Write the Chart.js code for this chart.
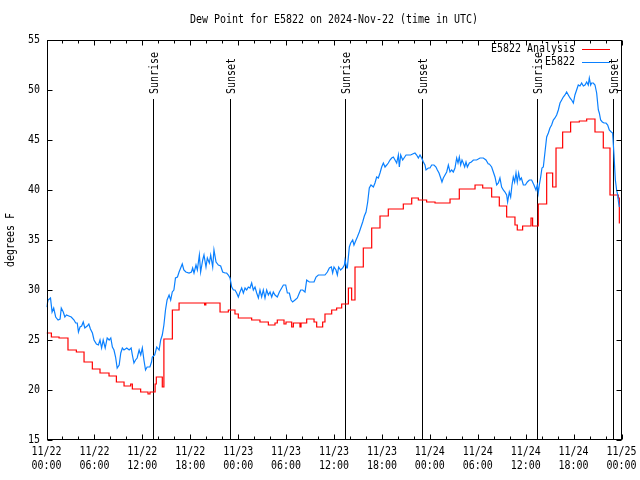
<!DOCTYPE html>
<html>
<head>
<meta charset="utf-8">
<script src="https://cdn.jsdelivr.net/npm/chart.js@4/dist/chart.umd.min.js"></script>
<style>
    html, body { margin: 0; background: #fff; }
</style>
</head>
<body>
<canvas id="dewChart" width="640" height="480"></canvas>
<script>
// dew point chart, hours since 2024-11-22 00:00 UTC on the x axis

const titleText = 'Dew Point for E5822 on 2024-Nov-22 (time in UTC)';
const yTitle = 'degrees F';
const tickDays = ['11/22', '11/22', '11/22', '11/22', '11/23', '11/23', '11/23', '11/23', '11/24', '11/24', '11/24', '11/24', '11/25'];
const tickTimes = ['00:00', '06:00', '12:00', '18:00', '00:00', '06:00', '12:00', '18:00', '00:00', '06:00', '12:00', '18:00', '00:00'];

const sunHours = [13.38, 22.98, 37.38, 47.06, 61.46, 70.97];
const sunLabels = ['Sunrise', 'Sunset', 'Sunrise', 'Sunset', 'Sunrise', 'Sunset'];

// E5822 Analysis (step line, value held until next hour)
const anaHours = [0, 0.61, 1.57, 2.69, 3.74, 4.7, 5.74, 6.7, 7.83, 8.75, 9.71, 10.54, 10.75, 11.79, 12.71, 12.96,
    13.6, 13.75, 14.5, 14.7, 15.76, 16.6, 19.8, 19.95, 21.73, 22.77, 23.6, 24.02, 25.69, 26.73, 27.78, 28.61, 28.9,
    29.74, 29.99, 30.7, 30.91, 31.74, 31.87, 32.58, 33.5, 33.83, 34.58, 34.87, 35.71, 36.33, 36.96, 37.8, 38.21,
    38.63, 39.67, 40.72, 41.76, 42.8, 44.68, 45.73, 46.56, 47.6, 48.65, 50.53, 51.69, 53.66, 54.62, 55.74, 56.7,
    57.62, 58.66, 58.95, 59.62, 60.67, 60.87, 61.58, 62.63, 63.38, 63.8, 64.63, 65.63, 66.72, 67.64, 68.68, 69.72,
    70.56, 71.6, 71.73, 71.8];
const anaDew = [25.7, 25.3, 25.2, 24.0, 23.8, 22.8, 22.1, 21.7, 21.4, 20.8, 20.4, 20.6, 20.1, 19.8, 19.6, 19.8,
    20.6, 21.3, 20.3, 25.1, 28.0, 28.7, 28.5, 28.7, 27.8, 28.0, 27.6, 27.2, 27.0, 26.8, 26.5, 26.7, 27.0,
    26.6, 26.8, 26.3, 26.7, 26.3, 26.7, 27.1, 26.8, 26.3, 26.8, 27.6, 28.0, 28.2, 28.6, 30.2, 29.0,
    32.3, 34.2, 36.2, 37.4, 38.1, 38.6, 39.2, 39.0, 38.8, 38.7, 39.1, 40.1, 40.5, 40.2, 39.3, 38.4,
    37.3, 36.5, 36.0, 36.4, 37.2, 36.4, 38.6, 41.7, 40.3, 44.2, 45.8, 46.8, 46.9, 47.1, 45.8, 44.2,
    39.5, 39.2, 36.7, 36.7];

// E5822 observations
const obsHours = [0, 0.2, 0.5, 0.7, 0.9, 1.15, 1.45, 1.7, 1.85, 2.1, 2.3, 2.5, 2.8, 3.1, 3.45, 3.65, 3.85, 4.0,
    4.2, 4.4, 4.6, 4.8, 5.1, 5.3, 5.5, 5.75, 5.95, 6.25, 6.5, 6.7, 6.9, 7.1, 7.35, 7.6, 7.85, 8.05, 8.25, 8.45,
    8.65, 8.85, 9.1, 9.3, 9.5, 9.7, 10.05, 10.35, 10.6, 10.75, 10.95, 11.15, 11.35, 11.6, 11.8, 12.0, 12.2, 12.4,
    12.6, 12.95, 13.15, 13.25, 13.55, 13.8, 14.1, 14.3, 14.5, 14.7, 14.9, 15.1, 15.35, 15.55, 15.75, 15.95, 16.15,
    16.4, 16.6, 16.8, 17.0, 17.2, 17.45, 17.85, 18.15, 18.3, 18.47, 18.72, 18.89, 19.14, 19.3, 19.56, 19.72, 19.97,
    20.14, 20.39, 20.56, 20.81, 20.97, 21.23, 21.52, 21.81, 22.06, 22.35, 22.56, 22.77, 22.98, 23.19, 23.4, 23.6,
    23.81, 24.02, 24.23, 24.44, 24.65, 24.86, 25.07, 25.27, 25.48, 25.69, 25.9, 26.11, 26.32, 26.53, 26.73, 26.94,
    27.15, 27.36, 27.57, 27.78, 27.99, 28.2, 28.4, 28.61, 28.9, 29.16, 29.45, 29.66, 29.95, 30.16, 30.41, 30.62,
    30.82, 31.12, 31.41, 31.66, 31.83, 32.08, 32.37, 32.58, 32.91, 33.2, 33.5, 33.75, 34.04, 34.33, 34.58, 34.87,
    35.17, 35.42, 35.67, 35.83, 36.0, 36.25, 36.42, 36.58, 36.83, 37.09, 37.3, 37.38, 37.59, 37.67, 37.92, 38.09,
    38.34, 38.5, 38.76, 38.92, 39.17, 39.38, 39.59, 39.8, 40.01, 40.22, 40.42, 40.63, 40.93, 41.13, 41.34, 41.55,
    41.76, 41.97, 42.18, 42.39, 42.6, 42.8, 43.01, 43.22, 43.43, 43.64, 43.85, 44.06, 44.18, 44.35, 44.6, 44.77,
    45.02, 45.31, 45.6, 45.85, 46.14, 46.35, 46.56, 46.77, 46.98, 47.19, 47.39, 47.52, 47.81, 48.02, 48.23, 48.52,
    48.77, 48.94, 49.15, 49.36, 49.52, 49.69, 49.9, 50.11, 50.32, 50.53, 50.73, 50.94, 51.15, 51.36, 51.53, 51.69,
    51.86, 52.03, 52.19, 52.36, 52.53, 52.7, 52.95, 53.2, 53.45, 53.86, 54.28, 54.7, 55.03, 55.32, 55.45, 55.74,
    55.95, 56.16, 56.37, 56.58, 56.78, 56.99, 57.2, 57.41, 57.62, 57.74, 57.95, 58.12, 58.29, 58.45, 58.62, 58.79,
    58.95, 59.12, 59.29, 59.46, 59.71, 59.96, 60.21, 60.46, 60.75, 61.04, 61.29, 61.46, 61.58, 61.71, 61.88, 62.04,
    62.21, 62.42, 62.63, 62.84, 63.04, 63.25, 63.46, 63.67, 63.88, 64.09, 64.3, 64.51, 64.71, 64.92, 65.13, 65.34,
    65.55, 65.76, 65.97, 66.17, 66.38, 66.59, 66.8, 67.01, 67.22, 67.43, 67.64, 67.84, 67.97, 68.14, 68.26, 68.47,
    68.68, 68.89, 69.1, 69.22, 69.39, 69.6, 69.81, 70.06, 70.27, 70.47, 70.72, 70.89, 71.06, 71.14, 71.23, 71.39,
    71.52, 71.64, 71.73];
const obsDew = [28.3, 29.0, 29.2, 27.8, 28.2, 27.3, 27.0, 27.1, 28.2, 27.8, 27.3, 27.5, 27.4, 27.3, 27.0, 26.7, 26.7, 25.8,
    26.3, 26.4, 26.8, 26.2, 26.4, 26.6, 26.1, 25.7, 25.0, 24.6, 24.5, 25.0, 24.2, 25.0, 24.2, 25.2, 25.0, 25.2, 24.3, 24.0,
    23.3, 22.2, 22.5, 23.7, 24.2, 24.0, 24.2, 24.0, 24.2, 23.5, 22.7, 23.0, 23.2, 24.0, 23.5, 24.2, 23.0, 22.0,
    22.3, 22.3, 22.8, 23.3, 23.5, 24.3, 24.0, 25.0, 25.5, 26.5, 28.0, 29.0, 29.5, 29.0, 29.8, 30.0, 31.2,
    31.3, 31.8, 32.2, 32.6, 32.0, 31.8, 31.7, 31.8, 32.2, 31.7, 32.5, 32.0, 33.5, 31.8, 33.0, 33.5, 32.3,
    33.2, 32.7, 33.5, 32.3, 34.0, 32.8, 32.5, 32.4, 31.8, 31.7, 31.7, 31.5, 31.2, 30.3, 30.0, 30.0,
    29.7, 29.3, 29.8, 30.2, 29.7, 30.2, 30.0, 30.3, 30.2, 30.7, 30.0, 30.3, 29.7, 29.2, 30.0, 29.3,
    30.0, 29.2, 30.0, 29.5, 29.8, 29.3, 29.8, 29.5, 29.3, 29.8, 30.2, 30.5, 30.5, 29.7, 29.7, 29.0,
    28.8, 29.0, 29.2, 29.7, 30.0, 30.0, 29.8, 31.0, 30.8, 30.8, 30.8, 31.3, 31.5, 31.5, 31.5, 31.5,
    31.8, 32.2, 32.3, 31.7, 32.3, 32.0, 31.5, 32.3, 32.0, 32.2, 32.5, 33.0, 32.2, 32.2, 34.3, 34.7,
    35.0, 34.5, 35.0, 35.3, 35.8, 36.3, 36.8, 37.4, 37.8, 38.8, 40.2, 40.5, 40.3, 40.7, 41.3, 41.2,
    41.7, 42.3, 42.7, 42.3, 42.5, 42.7, 43.0, 43.2, 43.3, 43.0, 42.7, 43.5, 42.3, 43.5, 43.0, 43.2,
    43.5, 43.5, 43.5, 43.6, 43.7, 43.5, 43.2, 43.5, 43.2, 42.8, 42.5, 42.0, 42.2, 42.2, 42.5, 42.5,
    42.3, 42.0, 41.7, 41.2, 40.8, 41.2, 41.5, 41.8, 42.5, 41.8, 42.0, 41.8, 42.2, 43.2, 42.7, 43.3,
    42.5, 43.0, 42.7, 42.3, 42.8, 42.3, 42.7, 42.8, 43.0, 43.0, 43.2, 43.2, 43.0, 42.6, 42.6, 42.3,
    41.8, 41.3, 40.5, 40.7, 41.2, 40.3, 40.0, 39.8, 39.5, 38.8, 39.8, 39.3, 40.5, 41.3, 40.8, 41.7,
    40.8, 41.7, 41.0, 41.2, 40.5, 40.5, 40.8, 41.0, 41.0, 40.5, 40.0, 40.5, 39.7, 40.5, 41.3, 42.2,
    42.3, 43.8, 45.3, 45.7, 46.2, 46.5, 47.0, 47.2, 47.5, 48.0, 48.7, 49.0, 49.3, 49.5, 49.8, 49.5,
    49.2, 49.0, 48.7, 49.5, 50.0, 50.5, 50.4, 50.7, 50.4, 50.5, 50.8, 50.5, 51.2, 50.5, 50.7, 50.7,
    50.5, 49.7, 48.0, 47.7, 47.0, 46.8, 46.7, 46.7, 46.5, 46.0, 45.8, 45.7, 43.5, 42.3, 41.0, 40.0,
    39.5, 38.7, 38.3];

// gnuplot's bitmap font is tall and narrow: 12px mono squeezed to a 6px advance
const FONT = '12px "DejaVu Sans Mono", "Liberation Mono", monospace';
const SQUEEZE = 0.831;

function toPoints(xs, ys) {
    return xs.map((x, i) => ({ x: x, y: ys[i] }));
}

function drawText(ctx, text, x, y, align, rotate) {
    ctx.save();
    ctx.translate(x, y);
    if(rotate) ctx.rotate(-Math.PI / 2);
    ctx.scale(SQUEEZE, 1);
    ctx.font = FONT;
    ctx.fillStyle = '#000';
    ctx.textAlign = align;
    ctx.textBaseline = 'middle';
    ctx.fillText(text, 0, 0);
    ctx.restore();
}

// frame, inward ticks, labels, sun markers, legend and title
const gnuplotDecor = {
    id: 'gnuplotDecor',
    beforeDatasetsDraw(chart) {
        const ctx = chart.ctx;
        const area = chart.chartArea;
        const xs = chart.scales.x;
        ctx.save();
        ctx.strokeStyle = '#000';
        ctx.lineWidth = 1;
        sunHours.forEach((h, i) => {
            const px = Math.round(xs.getPixelForValue(h)) + 0.5;
            ctx.beginPath();
            ctx.moveTo(px, 99);
            ctx.lineTo(px, area.bottom);
            ctx.stroke();
            drawText(ctx, sunLabels[i], px + 1, 94, 'left', true);
        });
        ctx.restore();
    },
    afterDraw(chart) {
        const ctx = chart.ctx;
        const area = chart.chartArea;
        const xs = chart.scales.x;
        const ys = chart.scales.y;
        const L = Math.round(area.left) + 0.5, R = Math.round(area.right) - 0.5;
        const T = Math.round(area.top) + 0.5, B = Math.round(area.bottom) - 0.5;
        ctx.save();
        ctx.strokeStyle = '#000';
        ctx.lineWidth = 1;
        ctx.strokeRect(L, T, R - L, B - T);

        ctx.beginPath();
        xs.ticks.forEach(t => {
            const px = Math.round(xs.getPixelForValue(t.value)) + 0.5;
            const len = t.value % 6 === 0 ? 5 : 3;
            ctx.moveTo(px, B); ctx.lineTo(px, B - len);
            ctx.moveTo(px, T); ctx.lineTo(px, T + len);
        });
        ys.ticks.forEach(t => {
            const py = Math.round(ys.getPixelForValue(t.value)) + 0.5;
            ctx.moveTo(L, py); ctx.lineTo(L + 5, py);
            ctx.moveTo(R, py); ctx.lineTo(R - 5, py);
        });
        ctx.stroke();

        // tick labels
        xs.ticks.forEach(t => {
            if(t.value % 6 !== 0) return;
            const i = t.value / 6;
            const px = xs.getPixelForValue(t.value);
            drawText(ctx, tickDays[i], px, 452, 'center');
            drawText(ctx, tickTimes[i], px, 466, 'center');
        });
        ys.ticks.forEach(t => {
            drawText(ctx, String(t.value), 40, ys.getPixelForValue(t.value), 'right');
        });
        drawText(ctx, yTitle, 11, (area.top + area.bottom) / 2, 'center', true);

        // title
        drawText(ctx, titleText, (area.left + area.right) / 2, 20, 'center');

        // legend, text right aligned then line sample
        chart.data.datasets.forEach((ds, i) => {
            const y = 49 + i * 13;
            drawText(ctx, ds.label, 575, y, 'right');
            ctx.strokeStyle = ds.borderColor;
            ctx.beginPath();
            ctx.moveTo(582, y + 0.5);
            ctx.lineTo(610, y + 0.5);
            ctx.stroke();
        });
        ctx.restore();
    }
};

const ctx = document.getElementById('dewChart').getContext('2d');
new Chart(ctx, {
    type: 'line',
    data: {
        datasets: [{
            label: 'E5822 Analysis',
            data: toPoints(anaHours, anaDew),
            borderColor: '#ff0000',
            borderWidth: 1.2,
            stepped: 'before',
            pointRadius: 0,
            fill: false,
            order: 2
        }, {
            label: 'E5822',
            data: toPoints(obsHours, obsDew),
            borderColor: '#0a80ff',
            borderWidth: 1.2,
            pointRadius: 0,
            fill: false,
            order: 1
        }]
    },
    options: {
        responsive: false,
        animation: false,
        layout: {
            padding: { top: 40, right: 18.5, bottom: 0, left: 0 }
        },
        plugins: {
            legend: { display: false },
            title: { display: false },
            tooltip: { enabled: false }
        },
        scales: {
            x: {
                type: 'linear',
                min: 0,
                max: 72,
                grid: { display: false, drawTicks: false },
                border: { display: false },
                ticks: { display: false, stepSize: 2, autoSkip: false },
                afterFit: function(scale) { scale.height = 40; }
            },
            y: {
                min: 15,
                max: 55,
                grid: { display: false, drawTicks: false },
                border: { display: false },
                ticks: { display: false, stepSize: 5 },
                afterFit: function(scale) { scale.width = 46.5; }
            }
        }
    },
    plugins: [gnuplotDecor]
});
</script>
</body>
</html>
